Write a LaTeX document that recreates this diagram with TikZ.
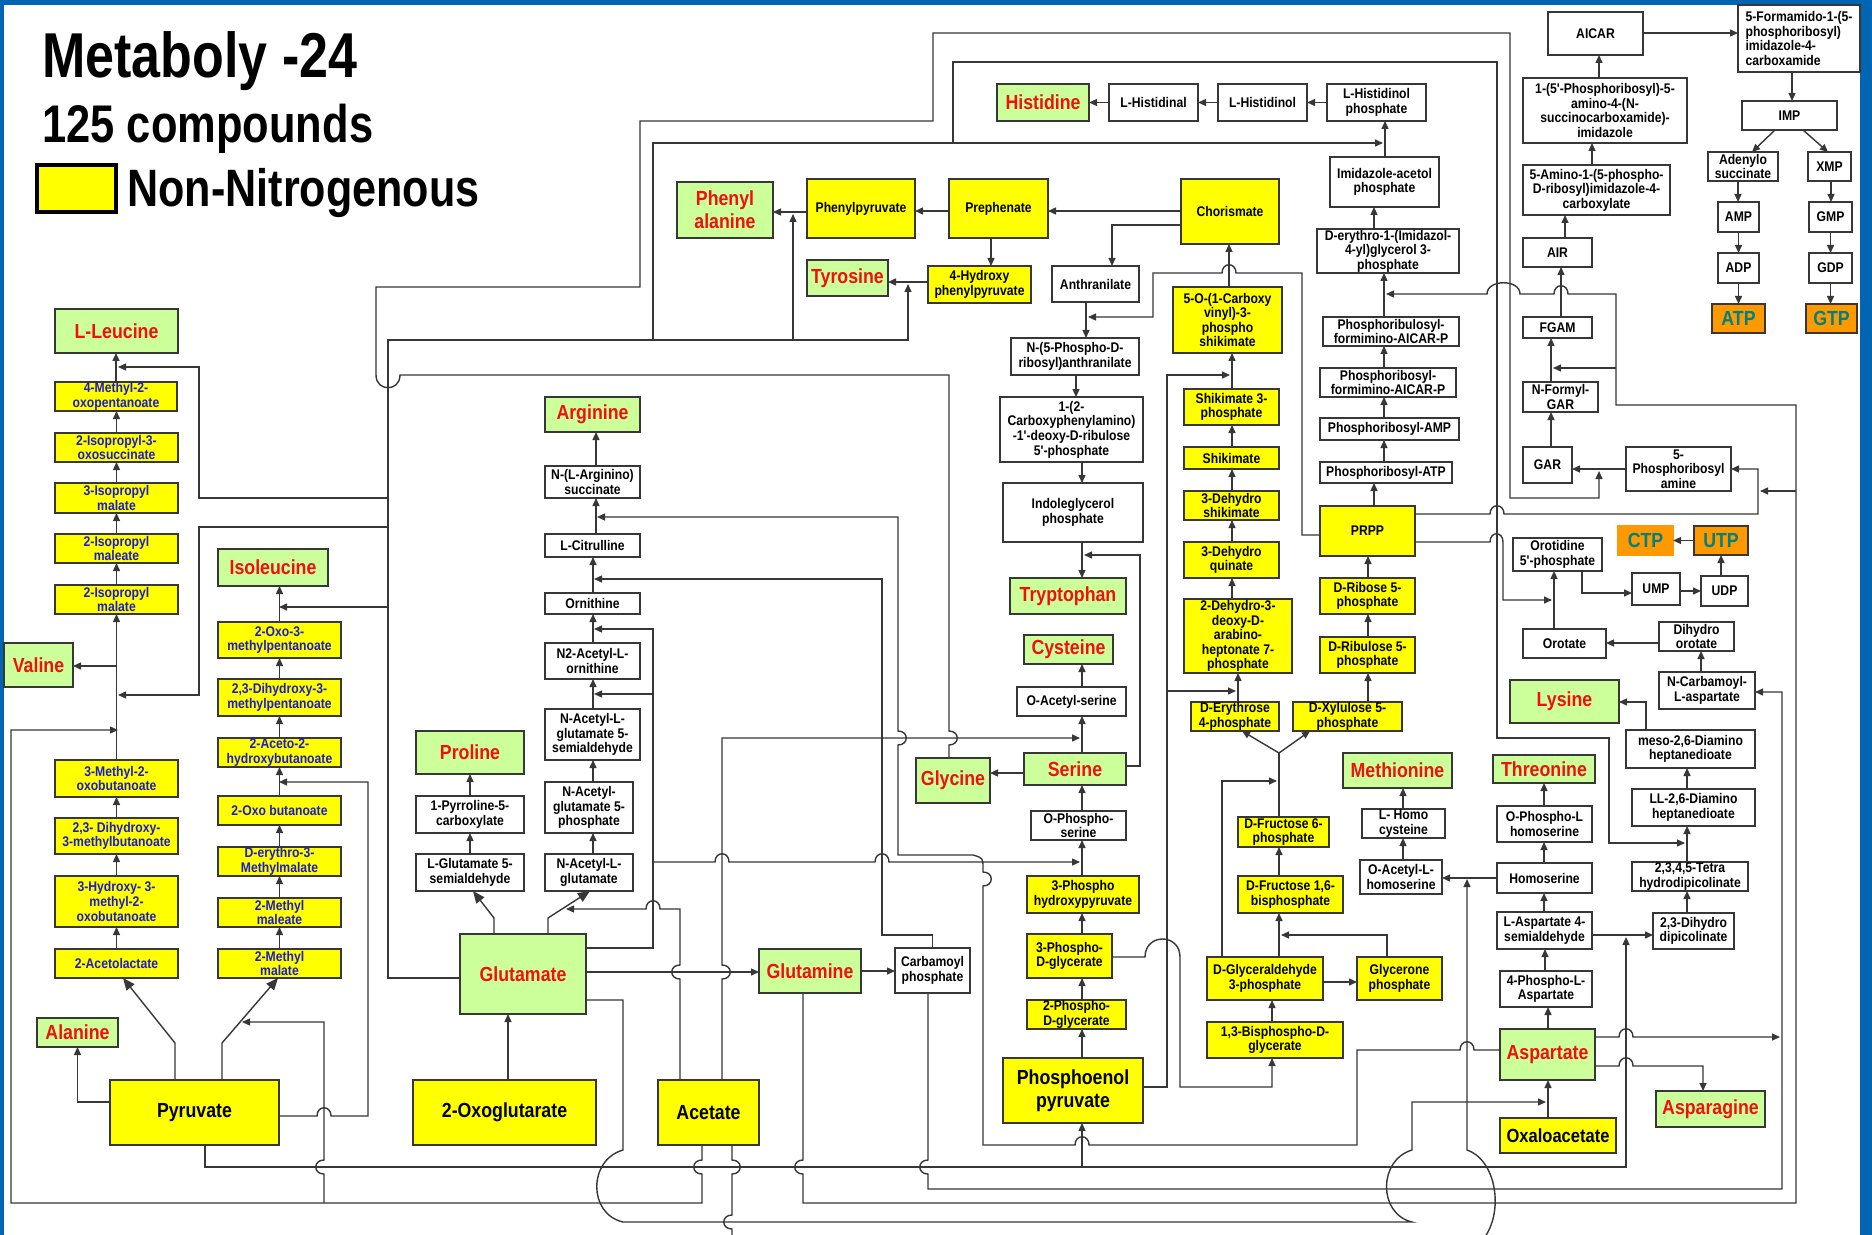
\documentclass[tikz,border=0pt]{standalone}
\usepackage{fontspec}
\setmainfont{Liberation Sans}
\newfontfamily\bodyfont[FakeStretch=0.87]{Liberation Sans}
\newfontfamily\titlefont[FakeStretch=0.82]{Liberation Sans}
\usetikzlibrary{arrows.meta}

\definecolor{lc}{RGB}{55,55,55}
\definecolor{gfill}{RGB}{204,255,153}
\definecolor{yfill}{RGB}{255,255,0}
\definecolor{rtxt}{RGB}{240,16,16}
\definecolor{btxt}{RGB}{28,28,205}
\definecolor{ofill}{RGB}{255,153,0}
\definecolor{ttxt}{RGB}{0,128,128}
\definecolor{framecol}{RGB}{0,102,179}

\newcommand\fsm{\bodyfont\bfseries\fontsize{7}{7.3}\selectfont}
\newcommand\fbig{\bodyfont\bfseries\fontsize{10.2}{11.5}\selectfont}

% compound box given by its corners (x1,y1)-(x2,y2) in pixel units
\newcommand\cpd[7]{\node[#6,minimum width={(#4-#2)*0.5pt},minimum height={(#5-#3)*0.5pt}] (#1) at ({(#2+#4)/2},{(#3+#5)/2}) {#7};}

\tikzset{
  cbox/.style={draw=lc, line width=0.8pt, inner sep=0pt, outer sep=0pt, align=center},
  wb/.style={cbox, fill=white, font=\fsm},
  yb/.style={cbox, fill=yfill, font=\fsm},
  bb/.style={cbox, fill=yfill, font=\fsm, text=btxt},
  yB/.style={cbox, fill=yfill, font=\fbig},
  aa/.style={cbox, fill=gfill, font=\fbig, text=rtxt},
  nt/.style={cbox, fill=ofill, font=\fbig, text=ttxt},
  ln/.style={draw=lc, line width=0.7pt},
  arr/.style={ln, -{Triangle[length=4pt,width=3.5pt]}},
  arrL/.style={ln, -{Triangle[length=6pt,width=5pt]}},
  % line jumps over a crossing connector
  hopR/.style 2 args={insert path={-- ({#1-7},#2) .. controls ({#1-7},{#2-11}) and ({#1+7},{#2-11}) .. ({#1+7},#2)}},
  hopL/.style 2 args={insert path={-- ({#1+7},#2) .. controls ({#1+7},{#2-11}) and ({#1-7},{#2-11}) .. ({#1-7},#2)}},
  upR/.style 2 args={insert path={-- (#1,{#2+7}) .. controls ({#1+11},{#2+7}) and ({#1+11},{#2-7}) .. (#1,{#2-7})}},
  upL/.style 2 args={insert path={-- (#1,{#2+7}) .. controls ({#1-11},{#2+7}) and ({#1-11},{#2-7}) .. (#1,{#2-7})}},
  dnR/.style 2 args={insert path={-- (#1,{#2-7}) .. controls ({#1+11},{#2-7}) and ({#1+11},{#2+7}) .. (#1,{#2+7})}},
  dnL/.style 2 args={insert path={-- (#1,{#2-7}) .. controls ({#1-11},{#2-7}) and ({#1-11},{#2+7}) .. (#1,{#2+7})}},
}

\begin{document}
\begin{tikzpicture}[x=0.5pt,y=-0.5pt]
\useasboundingbox (0,0) rectangle (1872,1235);
\fill[white] (0,0) rectangle (1872,1235);
\fill[framecol] (0,0) rectangle (1872,5);
\fill[framecol] (0,0) rectangle (4,1235);
\fill[framecol] (1860,0) rectangle (1872,1235);

% heading and legend
\node[anchor=base west, inner sep=0pt, font=\titlefont\bfseries\fontsize{31.7}{34}\selectfont] (title) at (42,78) {Metaboly -24};
\node[anchor=base west, inner sep=0pt, font=\titlefont\bfseries\fontsize{26.5}{28}\selectfont] (count) at (42,143) {125 compounds};
\cpd{leg}{37}{165}{116}{212}{draw=black,line width=2pt,fill=yfill,inner sep=0pt}{}
\node[anchor=base west, inner sep=0pt, font=\titlefont\bfseries\fontsize{26.3}{28}\selectfont] (legtxt) at (127,207) {Non-Nitrogenous};

% ---------- leucine / valine / isoleucine ----------
\cpd{leu}{55}{309}{178}{353}{aa}{L-Leucine}
\cpd{mop}{55}{382}{177}{411}{bb}{4-Methyl-2-\\oxopentanoate}
\cpd{ipo}{55}{433}{178}{462}{bb}{2-Isopropyl-3-\\oxosuccinate}
\cpd{ipmt}{55}{483}{178}{513}{bb}{3-Isopropyl\\malate}
\cpd{ipme}{55}{534}{178}{563}{bb}{2-Isopropyl\\maleate}
\cpd{ipmd}{55}{585}{178}{614}{bb}{2-Isopropyl\\malate}
\cpd{val}{4}{643}{73}{687}{aa}{Valine}
\cpd{mob}{55}{760}{178}{797}{bb}{3-Methyl-2-\\oxobutanoate}
\cpd{dhmb}{55}{818}{178}{854}{bb}{2,3- Dihydroxy-\\3-methylbutanoate}
\cpd{hmob}{55}{876}{178}{927}{bb}{3-Hydroxy- 3-\\methyl-2-\\oxobutanoate}
\cpd{acl}{55}{949}{178}{978}{bb}{2-Acetolactate}
\cpd{ala}{37}{1018}{118}{1047}{aa}{Alanine}
\cpd{pyr}{110}{1080}{279}{1145}{yB}{Pyruvate}
\cpd{ile}{218}{549}{328}{586}{aa}{Isoleucine}
\cpd{omp}{218}{622}{341}{658}{bb}{2-Oxo-3-\\methylpentanoate}
\cpd{dhmp}{218}{679}{341}{716}{bb}{2,3-Dihydroxy-3-\\methylpentanoate}
\cpd{ahb}{218}{738}{341}{767}{bb}{2-Aceto-2-\\hydroxybutanoate}
\cpd{oxb}{218}{796}{341}{825}{bb}{2-Oxo butanoate}
\cpd{emm}{218}{847}{341}{876}{bb}{D-erythro-3-\\Methylmalate}
\cpd{mme}{218}{898}{341}{927}{bb}{2-Methyl\\maleate}
\cpd{mma}{218}{949}{341}{978}{bb}{2-Methyl\\malate}

% ---------- proline / arginine ----------
\cpd{pro}{416}{731}{524}{774}{aa}{Proline}
\cpd{pcx}{416}{796}{524}{833}{wb}{1-Pyrroline-5-\\carboxylate}
\cpd{gsa}{416}{854}{524}{891}{wb}{L-Glutamate 5-\\semialdehyde}
\cpd{arg}{545}{397}{640}{432}{aa}{Arginine}
\cpd{asu}{545}{466}{640}{498}{wb}{N-(L-Arginino)\\succinate}
\cpd{cit}{545}{534}{640}{557}{wb}{L-Citrulline}
\cpd{orn}{545}{593}{640}{614}{wb}{Ornithine}
\cpd{nao}{545}{643}{640}{679}{wb}{N2-Acetyl-L-\\ornithine}
\cpd{nags}{545}{709}{640}{760}{wb}{N-Acetyl-L-\\glutamate 5-\\semialdehyde}
\cpd{nagp}{545}{782}{633}{833}{wb}{N-Acetyl-\\glutamate 5-\\phosphate}
\cpd{nag}{545}{854}{633}{891}{wb}{N-Acetyl-L-\\glutamate}
\cpd{glu}{460}{934}{586}{1014}{aa}{Glutamate}
\cpd{ogl}{413}{1080}{596}{1145}{yB}{2-Oxoglutarate}
\cpd{ace}{658}{1080}{759}{1145}{yB}{Acetate}
\cpd{gln}{759}{949}{861}{993}{aa}{Glutamine}
\cpd{cbp}{895}{948}{970}{993}{wb}{Carbamoyl\\phosphate}

% ---------- aromatic amino acids ----------
\cpd{phe}{677}{182}{773}{238}{aa}{Phenyl\\alanine}
\cpd{ppy}{807}{179}{915}{238}{yb}{Phenylpyruvate}
\cpd{tyr}{807}{260}{888}{296}{aa}{Tyrosine}
\cpd{hpp}{928}{266}{1031}{303}{yb}{4-Hydroxy\\phenylpyruvate}
\cpd{pre}{949}{179}{1048}{238}{yb}{Prephenate}
\cpd{cho}{1181}{179}{1279}{244}{yb}{Chorismate}
\cpd{ant}{1052}{266}{1139}{302}{wb}{Anthranilate}
\cpd{pra}{1011}{338}{1139}{375}{wb}{N-(5-Phospho-D-\\ribosyl)anthranilate}
\cpd{cdrp}{1000}{397}{1143}{462}{wb}{1-(2-\\Carboxyphenylamino)\\-1'-deoxy-D-ribulose\\5'-phosphate}
\cpd{igp}{1003}{483}{1143}{542}{wb}{Indoleglycerol\\phosphate}
\cpd{trp}{1010}{578}{1126}{614}{aa}{Tryptophan}
\cpd{cys}{1024}{635}{1113}{664}{aa}{Cysteine}
\cpd{oas}{1017}{687}{1126}{716}{wb}{O-Acetyl-serine}
\cpd{ser}{1024}{753}{1126}{785}{aa}{Serine}
\cpd{gly}{916}{758}{990}{803}{aa}{Glycine}
\cpd{psr}{1031}{811}{1126}{840}{wb}{O-Phospho-\\serine}
\cpd{php}{1027}{876}{1139}{913}{yb}{3-Phospho\\hydroxypyruvate}
\cpd{pgc}{1027}{934}{1112}{978}{yb}{3-Phospho-\\D-glycerate}
\cpd{pgb}{1027}{1000}{1126}{1029}{yb}{2-Phospho-\\D-glycerate}
\cpd{pep}{1003}{1058}{1143}{1123}{yB}{Phosphoenol\\pyruvate}
\cpd{eps}{1173}{287}{1282}{353}{yb}{5-O-(1-Carboxy\\vinyl)-3-\\phospho\\shikimate}
\cpd{stp}{1184}{389}{1279}{425}{yb}{Shikimate 3-\\phosphate}
\cpd{shk}{1184}{447}{1279}{469}{yb}{Shikimate}
\cpd{dhs}{1184}{491}{1279}{520}{yb}{3-Dehydro\\shikimate}
\cpd{dhq}{1184}{542}{1279}{578}{yb}{3-Dehydro\\quinate}
\cpd{dahp}{1184}{599}{1292}{673}{yb}{2-Dehydro-3-\\deoxy-D-\\arabino-\\heptonate 7-\\phosphate}
\cpd{efp}{1191}{702}{1279}{731}{yb}{D-Erythrose\\4-phosphate}
\cpd{xfp}{1293}{702}{1402}{731}{yb}{D-Xylulose 5-\\phosphate}
\cpd{fsp}{1238}{817}{1329}{847}{yb}{D-Fructose 6-\\phosphate}
\cpd{fbp}{1238}{876}{1343}{913}{yb}{D-Fructose 1,6-\\bisphosphate}
\cpd{gap}{1207}{957}{1323}{1000}{yb}{D-Glyceraldehyde\\3-phosphate}
\cpd{dhap}{1357}{957}{1442}{1000}{yb}{Glycerone\\phosphate}
\cpd{bpg}{1207}{1022}{1343}{1058}{yb}{1,3-Bisphospho-D-\\glycerate}

% ---------- histidine ----------
\cpd{his}{997}{84}{1089}{121}{aa}{Histidine}
\cpd{hal}{1109}{84}{1198}{121}{wb}{L-Histidinal}
\cpd{hol}{1218}{84}{1307}{121}{wb}{L-Histidinol}
\cpd{hop}{1327}{84}{1426}{121}{wb}{L-Histidinol\\phosphate}
\cpd{iap}{1330}{157}{1439}{207}{wb}{Imidazole-acetol\\phosphate}
\cpd{igpt}{1317}{229}{1459}{273}{wb}{D-erythro-1-(Imidazol-\\4-yl)glycerol 3-\\phosphate}
\cpd{prfar}{1323}{317}{1459}{346}{wb}{Phosphoribulosyl-\\formimino-AICAR-P}
\cpd{profar}{1320}{368}{1456}{397}{wb}{Phosphoribosyl-\\formimino-AICAR-P}
\cpd{pramp}{1320}{418}{1459}{440}{wb}{Phosphoribosyl-AMP}
\cpd{pratp}{1320}{462}{1452}{483}{wb}{Phosphoribosyl-ATP}
\cpd{prpp}{1320}{506}{1415}{556}{yb}{PRPP}
\cpd{rfp}{1320}{578}{1415}{614}{yb}{D-Ribose 5-\\phosphate}
\cpd{rufp}{1320}{637}{1415}{673}{yb}{D-Ribulose 5-\\phosphate}

% ---------- methionine ----------
\cpd{met}{1343}{753}{1452}{788}{aa}{Methionine}
\cpd{hcy}{1362}{809}{1445}{838}{wb}{L- Homo\\cysteine}
\cpd{oah}{1360}{860}{1442}{894}{wb}{O-Acetyl-L-\\homoserine}

% ---------- purines ----------
\cpd{aicar}{1548}{12}{1643}{55}{wb}{AICAR}
\cpd{faicar}{1738}{5}{1860}{72}{wb,align=left}{5-Formamido-1-(5-\\phosphoribosyl)\\imidazole-4-\\carboxamide}
\cpd{saicar}{1523}{78}{1687}{143}{wb}{1-(5'-Phosphoribosyl)-5-\\amino-4-(N-\\succinocarboxamide)-\\imidazole}
\cpd{cair}{1523}{165}{1670}{215}{wb}{5-Amino-1-(5-phospho-\\D-ribosyl)imidazole-4-\\carboxylate}
\cpd{air}{1523}{238}{1592}{267}{wb}{AIR}
\cpd{fgam}{1523}{317}{1592}{338}{wb}{FGAM}
\cpd{fgar}{1523}{382}{1598}{412}{wb}{N-Formyl-\\GAR}
\cpd{gar}{1523}{447}{1572}{483}{wb}{GAR}
\cpd{prama}{1626}{447}{1731}{491}{wb}{5-\\Phosphoribosyl\\amine}
\cpd{imp}{1742}{101}{1837}{130}{wb}{IMP}
\cpd{ados}{1708}{152}{1778}{181}{wb}{Adenylo\\succinate}
\cpd{xmp}{1808}{152}{1851}{181}{wb}{XMP}
\cpd{amp}{1718}{202}{1759}{232}{wb}{AMP}
\cpd{gmp}{1809}{202}{1852}{232}{wb}{GMP}
\cpd{adp}{1718}{253}{1759}{283}{wb}{ADP}
\cpd{gdp}{1809}{253}{1852}{283}{wb}{GDP}
\cpd{atp}{1712}{304}{1765}{333}{nt}{ATP}
\cpd{gtp}{1806}{304}{1857}{333}{nt}{GTP}

% ---------- pyrimidines / lysine / aspartate family ----------
\cpd{ctp}{1618}{526}{1673}{555}{nt,draw=ofill}{CTP}
\cpd{utp}{1694}{526}{1748}{555}{nt}{UTP}
\cpd{ompf}{1513}{538}{1602}{571}{wb}{Orotidine\\5'-phosphate}
\cpd{ump}{1632}{573}{1680}{605}{wb}{UMP}
\cpd{udp}{1701}{576}{1748}{606}{wb}{UDP}
\cpd{oro}{1523}{629}{1606}{658}{wb}{Orotate}
\cpd{dho}{1659}{622}{1734}{651}{wb}{Dihydro\\orotate}
\cpd{nca}{1659}{672}{1755}{709}{wb}{N-Carbamoyl-\\L-aspartate}
\cpd{lys}{1510}{680}{1619}{723}{aa}{Lysine}
\cpd{mdap}{1626}{730}{1755}{768}{wb}{meso-2,6-Diamino\\heptanedioate}
\cpd{lldap}{1632}{789}{1755}{826}{wb}{LL-2,6-Diamino\\heptanedioate}
\cpd{thdp}{1632}{862}{1748}{891}{wb}{2,3,4,5-Tetra\\hydrodipicolinate}
\cpd{dhdp}{1653}{913}{1734}{949}{wb}{2,3-Dihydro\\dipicolinate}
\cpd{thr}{1493}{755}{1595}{783}{aa}{Threonine}
\cpd{phs}{1497}{806}{1592}{842}{wb}{O-Phospho-L\\homoserine}
\cpd{hom}{1497}{863}{1592}{893}{wb}{Homoserine}
\cpd{asa}{1497}{912}{1592}{949}{wb}{L-Aspartate 4-\\semialdehyde}
\cpd{pasp}{1500}{971}{1592}{1007}{wb}{4-Phospho-L-\\Aspartate}
\cpd{asp}{1500}{1029}{1595}{1080}{aa}{Aspartate}
\cpd{oaa}{1500}{1118}{1616}{1153}{yB,font=\bodyfont\bfseries\fontsize{9.5}{11}\selectfont}{Oxaloacetate}
\cpd{asn}{1656}{1091}{1765}{1127}{aa}{Asparagine}

% ---------- points where side arrows meet a reaction ----------
\coordinate (jVal) at (117,666);
\coordinate (jLeu) at (118,367);
\coordinate (jValb) at (118,695);
\coordinate (jAcVal) at (118,730);
\coordinate (jIle) at (279,607);
\coordinate (jAhb) at (279,782);
\coordinate (jMma) at (242,1022);
\coordinate (jNag) at (566,909);
\coordinate (jOrn) at (594,629);
\coordinate (jNao) at (594,694);
\coordinate (jCit) at (594,579);
\coordinate (jAsu) at (597,517);
\coordinate (jTyr) at (908,284);
\coordinate (jPhe) at (793,214);
\coordinate (jHop) at (1383,143);
\coordinate (jGar) at (1599,471);
\coordinate (jDap) at (1685,843);
\coordinate (jPsr) at (1080,862);
\coordinate (jOas) at (1080,738);
\coordinate (jTrp) at (1084,555);
\coordinate (jPra) at (1088,317);
\coordinate (jEps) at (1230,375);
\coordinate (jDahp) at (1236,691);
\coordinate (jFbp) at (1281,935);
\coordinate (jTk) at (1277,781);
\coordinate (jIgp) at (1386,294);
\coordinate (jFgam) at (1553,368);
\coordinate (jPrama) at (1760,491);
\coordinate (jOmp) at (1552,600);
\coordinate (jOaa) at (1546,1102);
\coordinate (jOah) at (1467,879);
\coordinate (jDhdp) at (1626,937);
\coordinate (jNca) at (1780,1037);

% ---------- branched-chain pathways ----------
\draw[arr] (mop.north) -- (leu.south -| mop.north);
\draw[arr] (ipo.north) -- (mop.south -| ipo.north);
\draw[arr] (ipmt.north) -- (ipo.south -| ipmt.north);
\draw[arr] (ipme.north) -- (ipmt.south -| ipme.north);
\draw[arr] (ipmd.north) -- (ipme.south -| ipmd.north);
\draw[arr] (mob.north) -- (ipmd.south -| mob.north);
\draw[arr] (dhmb.north) -- (mob.south -| dhmb.north);
\draw[arr] (hmob.north) -- (dhmb.south -| hmob.north);
\draw[arr] (acl.north) -- (hmob.south -| acl.north);
\draw[arr] (jVal) -- (val.east |- jVal);
\draw[arr] (omp.north) -- (ile.south -| omp.north);
\draw[arr] (dhmp.north) -- (omp.south -| dhmp.north);
\draw[arr] (ahb.north) -- (dhmp.south -| ahb.north);
\draw[arr] (oxb.north) -- (ahb.south -| oxb.north);
\draw[arr] (emm.north) -- (oxb.south -| emm.north);
\draw[arr] (mme.north) -- (emm.south -| mme.north);
\draw[arr] (mma.north) -- (mme.south -| mma.north);

% ---------- pyruvate ----------
\draw[arr] (pyr.west |- 0,1102) -| (ala.south);
\draw[arrL] (175,0 |- pyr.north) -- (175,1043) -- (acl.south -| 123,0);
\draw[arrL] (222,0 |- pyr.north) -- (222,1043) -- (mma.south -| 278,0);
\draw[arr] (pyr.east |- 0,1116) [hopR={324}{1116}] -- (368,1116) -- (368,782) -- (jAhb);
\draw[arr] (205,0 |- pyr.south) -- (205,1167) -- (1626,1167) -- (jDhdp);
\draw[arr] (1082,1167) -- (1082,0 |- pep.south);

% ---------- acetate ----------
\draw[arr] (702,0 |- ace.south) [dnL={702}{1167}] -- (702,1203) -- (11,1203) -- (11,730) -- (jAcVal);
\draw[arr] (324,1203) [upL={324}{1167}] -- (324,1022) -- (jMma);
\draw[arr] (680,0 |- ace.north) [upL={680}{972}] -- (680,909) [hopL={653}{909}] -- (jNag);
\draw[arr] (722,0 |- ace.north) [upR={722}{972}] -- (722,738) -- (jOas);
\draw[arr] (732,0 |- ace.south) [dnR={732}{1167}] [dnL={732}{1222}] -- (732,1250) -- (1470,1250)
  .. controls (1506,1232) and (1502,1162) .. (1467,1150) -- (jOah);

% ---------- glutamate ----------
\draw[arr] (glu.west |- 0,978) -- (388,978) -- (388,340) -- (908,340) -- (jTyr);
\draw[arr] (793,340) -- (jPhe);
\draw[arr] (653,340) -- (653,143) -- (jHop);
\draw[arr] (953,143) -- (953,62) -- (1497,62) -- (1497,738) -- (1609,738) -- (1609,843) -- (jDap);
\draw[arr] (388,498) -- (199,498) -- (199,367) -- (jLeu);
\draw[arr] (388,527) -- (199,527) -- (199,695) -- (jValb);
\draw[arr] (388,607) -- (jIle);
\draw[arrL] (494,0 |- glu.north) -- (494,918) -- (gsa.south -| 473,0);
\draw[arrL] (548,0 |- glu.north) -- (548,918) -- (nag.south -| 590,0);
\draw[arr] (gsa.north -| 470,0) -- (pcx.south -| 470,0);
\draw[arr] (pcx.north -| 470,0) -- (pro.south -| 470,0);
\draw[arr] (nag.north -| 593,0) -- (nagp.south -| 593,0);
\draw[arr] (nagp.north -| 593,0) -- (nags.south -| 593,0);
\draw[arr] (nags.north -| 593,0) -- (nao.south -| 593,0);
\draw[arr] (nao.north -| 593,0) -- (orn.south -| 593,0);
\draw[arr] (orn.north -| 593,0) -- (cit.south -| 593,0);
\draw[arr] (cit.north -| 596,0) -- (asu.south -| 596,0);
\draw[arr] (asu.north -| 596,0) -- (arg.south -| 596,0);
\draw[arr] (glu.east |- 0,948) -- (653,948) -- (653,629) -- (jOrn);
\draw[arr] (653,694) -- (jNao);
\draw[arr] (653,862) [hopR={722}{862}] [hopR={882}{862}] -- (jPsr);
\draw[arr] (ogl.north -| 508,0) -- (glu.south -| 508,0);
\draw[arr] (glu.east |- 0,972) -- (gln.west |- 0,972);
\draw[arr] (gln.east |- 0,971) -- (cbp.west |- 0,971);
\draw[arr] (glu.east |- 0,1000) -- (623,1000) -- (623,1150) .. controls (588,1160) and (588,1214) .. (623,1222)
  -- (1412,1222) .. controls (1378,1214) and (1378,1160) .. (1412,1150) -- (1412,1102) -- (jOaa);

% ---------- glycine ----------
\draw[arr] (949,0 |- gly.north) [upR={949}{738}] -- (949,375) -- (400,375) .. controls (400,392) and (376,392) .. (376,375)
  -- (376,287) -- (640,287) -- (640,121) -- (933,121) -- (933,33) -- (1510,33) -- (1510,498) -- (1599,498) -- (jGar);

% ---------- glutamine ----------
\draw[arr] (gln.south -| 803,0) [dnL={803}{1167}] -- (803,1203) -- (1796,1203) -- (1796,405) -- (1616,405) -- (1616,294)
  [hopL={1561}{294}] -- (1520,294) .. controls (1520,279) and (1487,279) .. (1487,294) -- (jIgp);
\draw[arr] (1616,368) -- (jFgam);
\draw[arr] (1796,491) -- (jPrama);

% ---------- carbamoyl phosphate ----------
\draw[arr] (cbp.north) -- ++(0,-13) -| (882,579) -- (jCit);
\draw[arr] (928,0 |- cbp.south) [dnL={928}{1167}] -- (928,1189) -- (1782,1189) -- (1782,692) -- (nca.east |- 0,692);

% ---------- aspartate ----------
\draw[arr] (asp.west |- 0,1050) [hopL={1467}{1050}] -- (1357,1050) -- (1357,1145) [hopL={1082}{1145}] -- (983,1145)
  [upR={983}{879}] -- (983,868) .. controls (983,858) .. (973,855) -- (898,855) [upR={898}{738}] -- (898,517) -- (jAsu);
\draw[arr] (asp.east |- 0,1037) [hopR={1626}{1037}] -- (jNca);
\draw[arr] (asp.east |- 0,1066) [hopR={1626}{1066}] -- (1703,1066) -- (asn.north -| 1703,0);
\draw[arr] (oaa.north -| 1548,0) -- (asp.south -| 1548,0);
\draw[arr] (asp.north -| 1548,0) -- (pasp.south -| 1548,0);
\draw[arr] (pasp.north -| 1545,0) -- (asa.south -| 1545,0);
\draw[arr] (asa.north -| 1544,0) -- (hom.south -| 1544,0);
\draw[arr] (hom.north -| 1544,0) -- (phs.south -| 1544,0);
\draw[arr] (phs.north -| 1544,0) -- (thr.south -| 1544,0);
\draw[arr] (hom.west) -- (oah.east |- hom.west);
\draw[arr] (asa.east |- 0,935) -- (dhdp.west |- 0,935);
\draw[arr] (dhdp.north -| 1687,0) -- (thdp.south -| 1687,0);
\draw[arr] (thdp.north -| 1687,0) -- (lldap.south -| 1687,0);
\draw[arr] (lldap.north -| 1687,0) -- (mdap.south -| 1687,0);
\draw[arr] (mdap.north -| 1646,0) -- (1646,702) -- (lys.east |- 0,702);
\draw[arr] (oah.north -| 1403,0) -- (hcy.south -| 1403,0);
\draw[arr] (hcy.north -| 1403,0) -- (met.south -| 1403,0);

% ---------- pyrimidines ----------
\draw[arr] (nca.north -| 1701,0) -- (dho.south -| 1701,0);
\draw[arr] (dho.west |- 0,643) -- (oro.east |- 0,643);
\draw[arr] (oro.north -| 1554,0) -- (ompf.south -| 1554,0);
\draw[arr] (ompf.south -| 1582,0) -- (1582,593) -- (ump.west |- 0,593);
\draw[arr] (ump.east |- 0,591) -- (udp.west |- 0,591);
\draw[arr] (udp.north -| 1721,0) -- (utp.south -| 1721,0);
\draw[arr] (utp.west) -- (ctp.east);
\draw[arr] (prpp.east |- 0,542) -- (1490,542) .. controls (1490,531) and (1503,531) .. (1503,542) -- (1503,600) -- (jOmp);
\draw[arr] (prpp.east |- 0,514) [hopR={1497}{514}] -- (1758,514) -- (1758,469) -- (prama.east |- 0,469);

% ---------- purines ----------
\draw[arr] (prama.west |- 0,469) -- (gar.east |- 0,469);
\draw[arr] (gar.north -| 1551,0) -- (fgar.south -| 1551,0);
\draw[arr] (fgar.north -| 1551,0) -- (fgam.south -| 1551,0);
\draw[arr] (fgam.north -| 1561,0) -- (air.south -| 1561,0);
\draw[arr] (air.north -| 1565,0) -- (cair.south -| 1565,0);
\draw[arr] (cair.north -| 1592,0) -- (saicar.south -| 1592,0);
\draw[arr] (saicar.north -| 1599,0) -- (aicar.south -| 1599,0);
\draw[arr] (aicar.east |- 0,33) -- (faicar.west |- 0,33);
\draw[arr] (faicar.south -| 1792,0) -- (imp.north -| 1792,0);
\draw[arr] (imp.south -| 1775,0) -- (ados.north -| 1752,0);
\draw[arr] (imp.south -| 1803,0) -- (xmp.north -| 1828,0);
\draw[arr] (ados.south -| 1738,0) -- (amp.north -| 1738,0);
\draw[arr] (amp.south) -- (adp.north);
\draw[arr] (adp.south) -- (atp.north -| adp.south);
\draw[arr] (xmp.south -| 1831,0) -- (gmp.north -| 1831,0);
\draw[arr] (gmp.south) -- (gdp.north);
\draw[arr] (gdp.south) -- (gtp.north -| gdp.south);

% ---------- histidine ----------
\draw[arr] (prpp.north -| 1374,0) -- (pratp.south -| 1374,0);
\draw[arr] (pratp.north -| 1384,0) -- (pramp.south -| 1384,0);
\draw[arr] (pramp.north -| 1384,0) -- (profar.south -| 1384,0);
\draw[arr] (profar.north -| 1384,0) -- (prfar.south -| 1384,0);
\draw[arr] (prfar.north -| 1384,0) -- (igpt.south -| 1384,0);
\draw[arr] (igpt.north -| 1374,0) -- (iap.south -| 1374,0);
\draw[arr] (iap.north -| 1385,0) -- (hop.south -| 1385,0);
\draw[arr] (hop.west) -- (hol.east);
\draw[arr] (hol.west) -- (hal.east);
\draw[arr] (hal.west) -- (his.east);
\draw[arr] (rfp.north -| 1368,0) -- (prpp.south -| 1368,0);
\draw[arr] (rufp.north -| 1368,0) -- (rfp.south -| 1368,0);
\draw[arr] (xfp.north -| 1368,0) -- (rufp.south -| 1368,0);
\draw[arr] (prpp.west |- 0,535) -- (1302,535) -- (1302,273) [hopL={1229}{273}] -- (1153,273) -- (1153,317) -- (jPra);

% ---------- aromatic and serine branches ----------
\draw[arr] (cho.west |- 0,211) -- (pre.east |- 0,211);
\draw[arr] (pre.west |- 0,211) -- (ppy.east |- 0,211);
\draw[arr] (ppy.west |- 0,212) -- (phe.east |- 0,212);
\draw[arr] (pre.south -| 991,0) -- (hpp.north -| 991,0);
\draw[arr] (hpp.west |- 0,282) -- (tyr.east |- 0,282);
\draw[arr] (cho.west |- 0,225) -- (1112,225) -- (ant.north -| 1112,0);
\draw[arr] (ant.south -| 1086,0) -- (pra.north -| 1086,0);
\draw[arr] (pra.south -| 1076,0) -- (cdrp.north -| 1076,0);
\draw[arr] (cdrp.south -| 1082,0) -- (igp.north -| 1082,0);
\draw[arr] (igp.south -| 1082,0) -- (trp.north -| 1082,0);
\draw[arr] (ser.east |- 0,766) -- (1140,766) -- (1140,555) -- (jTrp);
\draw[arr] (ser.west |- 0,773) -- (gly.east |- 0,773);
\draw[arr] (ser.north -| 1082,0) -- (oas.south -| 1082,0);
\draw[arr] (oas.north -| 1082,0) -- (cys.south -| 1082,0);
\draw[arr] (psr.north -| 1082,0) -- (ser.south -| 1082,0);
\draw[arr] (php.north -| 1082,0) -- (psr.south -| 1082,0);
\draw[arr] (pgc.north -| 1082,0) -- (php.south -| 1082,0);
\draw[arr] (pgb.north -| 1082,0) -- (pgc.south -| 1082,0);
\draw[arr] (pep.north -| 1082,0) -- (pgb.south -| 1082,0);
\draw[arr] (pgc.east |- 0,957) -- (1145,957) .. controls (1145,933) and (1180,933) .. (1180,957) -- (1180,1087) -- (1272,1087) -- (bpg.south -| 1272,0);
\draw[arr] (pep.east |- 0,1087) -- (1167,1087) -- (1167,375) -- (jEps);
\draw[arr] (1167,691) -- (jDahp);
\draw[arr] (bpg.north -| 1272,0) -- (gap.south -| 1272,0);
\draw[arr] (gap.east |- 0,982) -- (dhap.west |- 0,982);
\draw[arr] (gap.north -| 1279,0) -- (fbp.south -| 1279,0);
\draw[arr] (dhap.north -| 1387,0) -- (1387,935) -- (jFbp);
\draw[arr] (fbp.north -| 1279,0) -- (fsp.south -| 1279,0);
\draw[ln] (fsp.north -| 1279,0) -- (1279,753);
\draw[arr] (1279,753) -- (efp.south -| 1242,0);
\draw[arr] (1279,753) -- (xfp.south -| 1310,0);
\draw[arr] (gap.north -| 1222,0) -- (1222,781) -- (jTk);
\draw[arr] (efp.north -| 1238,0) -- (dahp.south -| 1238,0);
\draw[arr] (dahp.north -| 1232,0) -- (dhq.south -| 1232,0);
\draw[arr] (dhq.north -| 1232,0) -- (dhs.south -| 1232,0);
\draw[arr] (dhs.north -| 1232,0) -- (shk.south -| 1232,0);
\draw[arr] (shk.north -| 1232,0) -- (stp.south -| 1232,0);
\draw[arr] (stp.north -| 1232,0) -- (eps.south -| 1232,0);
\draw[arr] (eps.north -| 1229,0) -- (cho.south -| 1229,0);
\end{tikzpicture}
\end{document}
